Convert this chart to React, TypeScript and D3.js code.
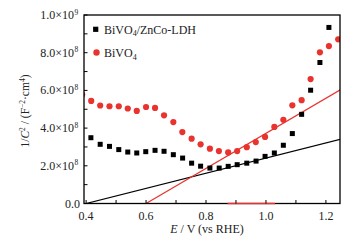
import React from "react";
import * as d3 from "d3";

const ldhX = [0.416, 0.447, 0.478, 0.509, 0.539, 0.569, 0.599, 0.63, 0.66, 0.691, 0.722, 0.752, 0.782, 0.813, 0.844, 0.874, 0.904, 0.936, 0.967, 0.997, 1.028, 1.058, 1.088, 1.119, 1.149, 1.18, 1.21];
const ldhY = [3.49e8, 3.14e8, 3.03e8, 2.86e8, 2.73e8, 2.68e8, 2.75e8, 2.82e8, 2.77e8, 2.59e8, 2.41e8, 2.14e8, 1.98e8, 1.88e8, 1.88e8, 1.97e8, 2.06e8, 2.14e8, 2.25e8, 2.5e8, 2.68e8, 3.09e8, 3.71e8, 4.73e8, 6.01e8, 7.48e8, 9.34e8];

const bvX = [0.387, 0.417, 0.447, 0.478, 0.509, 0.539, 0.569, 0.6, 0.63, 0.66, 0.691, 0.721, 0.752, 0.782, 0.813, 0.843, 0.874, 0.904, 0.936, 0.966, 0.997, 1.028, 1.058, 1.088, 1.119, 1.149, 1.18, 1.21, 1.241];
const bvY = [5.78e8, 5.44e8, 5.2e8, 5.16e8, 5.16e8, 5.04e8, 4.91e8, 5.12e8, 5.07e8, 4.68e8, 4.32e8, 3.79e8, 3.44e8, 3.14e8, 2.91e8, 2.78e8, 2.71e8, 2.78e8, 2.99e8, 3.26e8, 3.53e8, 4.06e8, 4.44e8, 5.21e8, 5.48e8, 6.6e8, 8.02e8, 8.35e8, 8.71e8];

const ldhFitX = [0.4, 1.25];
const ldhFitY = [0, 3.42e8];
const bvFitX = [0.6, 1.25];
const bvFitY = [0, 6.05e8];
const axisMarkX = [0.872, 1.03];

const xMajor = [0.4, 0.6, 0.8, 1.0, 1.2];
const xMinor = [0.5, 0.7, 0.9, 1.1];
const xTickLabels = ["0.4", "0.6", "0.8", "1.0", "1.2"];
const yMajor = [0, 2e8, 4e8, 6e8, 8e8, 1e9];
const yMinor = [1e8, 3e8, 5e8, 7e8, 9e8];
const yTickMant = ["0.0", "2.0", "4.0", "6.0", "8.0", "1.0"];
const yTickExp = ["", "8", "8", "8", "8", "9"];

const legendNames = ["BiVO", "BiVO"];

const W = 355;
const H = 241;
const L = 84, R = 340, T = 15, B = 203.5;
const RED = "#e8332f";
const FONT = "'Liberation Serif', 'Times New Roman', serif";

export default function App() {
  const x = d3.scaleLinear().domain([0.393, 1.247]).range([L, R]);
  const y = d3.scaleLinear().domain([0, 1e9]).range([B, T]);
  const line = d3.line<[number, number]>().x(d => x(d[0])).y(d => y(d[1]));
  const ldhFit = line(ldhFitX.map((v, i) => [v, ldhFitY[i]] as [number, number]));
  const bvFit = line(bvFitX.map((v, i) => [v, bvFitY[i]] as [number, number]));
  const axisMark = line(axisMarkX.map(v => [v, 0] as [number, number]));
  const tk = 3.5;
  return (
    <svg width={W} height={H} style={{ position: "absolute", left: 0, top: 0, background: "#fff" }} fontFamily={FONT}>
      <defs>
        <clipPath id="plot">
          <rect x={L} y={T} width={R - L} height={B - T} />
        </clipPath>
      </defs>
      <g clipPath="url(#plot)">
        <path d={ldhFit || ""} stroke="#000" strokeWidth={1.2} fill="none" />
        <path d={bvFit || ""} stroke={RED} strokeWidth={1.2} fill="none" />
        {bvX.map((v, i) => (
          <circle key={"c" + i} cx={x(v)} cy={y(bvY[i])} r={3.1} fill={RED} />
        ))}
        {ldhX.map((v, i) => (
          <rect key={"s" + i} x={x(v) - 2.5} y={y(ldhY[i]) - 2.5} width={5} height={5} fill="#000" />
        ))}
      </g>
      <rect x={L} y={T} width={R - L} height={B - T} fill="none" stroke="#000" strokeWidth={1.3} />
      <path d={axisMark || ""} stroke={RED} strokeWidth={1.4} fill="none" />
      {xMajor.concat(xMinor).map((v, i) => (
        <line key={"xt" + i} x1={x(v)} x2={x(v)} y1={B} y2={B - tk} stroke="#000" strokeWidth={1} />
      ))}
      {yMajor.concat(yMinor).map((v, i) => (
        <line key={"yt" + i} x1={L} x2={L + tk} y1={y(v)} y2={y(v)} stroke="#000" strokeWidth={1} />
      ))}
      {xMajor.map((v, i) => (
        <text key={"xl" + i} x={x(v)} y={220} fontSize={12} textAnchor="middle" fill="#222">{xTickLabels[i]}</text>
      ))}
      {yMajor.map((v, i) => (
        <text key={"yl" + i} x={yTickExp[i] ? 74 : 80} y={y(v) + 4} fontSize={12} textAnchor="end" fill="#222">
          {yTickExp[i] ? yTickMant[i] + "\u00d710" : yTickMant[i]}
        </text>
      ))}
      {yMajor.map((v, i) => yTickExp[i] ? (
        <text key={"ye" + i} x={74.5} y={y(v) - 0.5} fontSize={7.5} textAnchor="start" fill="#222">{yTickExp[i]}</text>
      ) : null)}
      <rect x={95.7 - 2.6} y={29.3 - 2.6} width={5.2} height={5.2} fill="#000" />
      <text x={104} y={33.5} fontSize={12} fill="#222">
        {legendNames[0]}<tspan dy={2.5} fontSize={8}>4</tspan><tspan dy={-2.5}>/ZnCo-LDH</tspan>
      </text>
      <circle cx={96.5} cy={52.5} r={3.2} fill={RED} />
      <text x={104} y={57} fontSize={12} fill="#222">
        {legendNames[1]}<tspan dy={2.5} fontSize={8}>4</tspan>
      </text>
      <text x={207} y={233} fontSize={12} textAnchor="middle" fill="#222">
        <tspan fontStyle="italic">E</tspan> / V (vs RHE)
      </text>
      <text transform="translate(29,111) rotate(-90)" fontSize={11.5} textAnchor="middle" fill="#222">
        1/<tspan fontStyle="italic">C</tspan><tspan dy={-4} fontSize={7.5}>2</tspan><tspan dy={4}> / (F</tspan><tspan dy={-4} fontSize={7.5}>−2</tspan><tspan dy={4}>·cm</tspan><tspan dy={-4} fontSize={7.5}>4</tspan><tspan dy={4}>)</tspan>
      </text>
    </svg>
  );
}
